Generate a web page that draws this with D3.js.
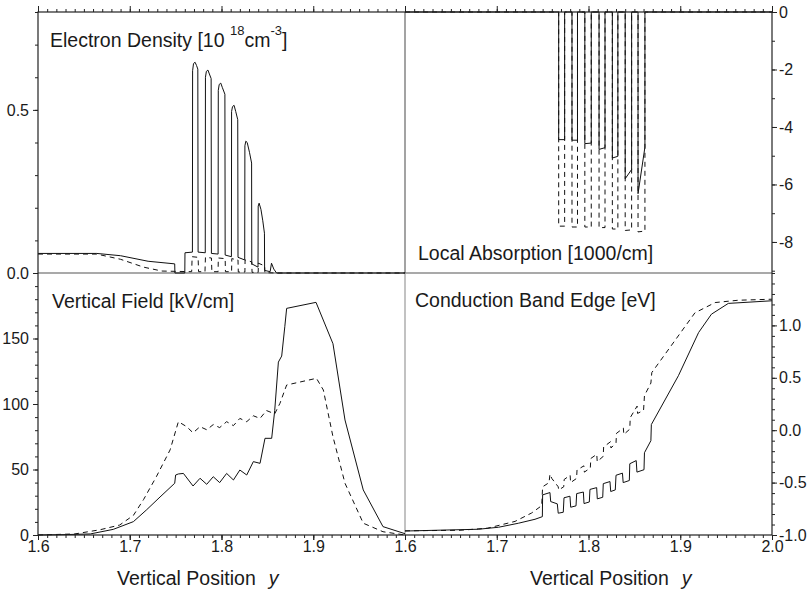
<!DOCTYPE html>
<html>
<head>
<meta charset="utf-8">
<script src="https://d3js.org/d3.v7.min.js"></script>
<style>
  body { margin: 0; background: #fff; }
  text { font-family: "Liberation Sans", Arial, sans-serif; fill: #1a1a1a; }
</style>
</head>
<body>
<div id="chart"></div>
<script>

// ---- data: [vertical position y, value] ----
const densitySolid = [
  [1.600,0.060],[1.664,0.060],[1.690,0.053],[1.720,0.036],[1.749,0.028],[1.7492,0.000],[1.760,0.000],[1.7602,0.062],[1.7683,0.064],
  [1.7685,0.620],[1.7695,0.642],[1.7712,0.646],[1.7728,0.636],[1.7742,0.625],[1.7745,0.064],[1.7823,0.062],
  [1.7825,0.600],[1.7835,0.618],[1.7852,0.622],[1.7868,0.610],[1.7887,0.596],[1.789,0.060],[1.7963,0.058],
  [1.7965,0.560],[1.7975,0.578],[1.7992,0.582],[1.8010,0.568],[1.8037,0.548],[1.804,0.055],[1.8108,0.050],
  [1.811,0.495],[1.8120,0.510],[1.8137,0.514],[1.8155,0.495],[1.8177,0.470],[1.818,0.048],[1.8253,0.040],
  [1.8255,0.390],[1.8265,0.404],[1.8280,0.400],[1.8305,0.370],[1.8328,0.337],[1.833,0.028],[1.8398,0.018],
  [1.840,0.205],[1.8410,0.214],[1.8430,0.195],[1.8450,0.160],[1.8468,0.122],[1.847,0.008],[1.853,0.004],
  [1.8545,0.030],[1.857,0.012],[1.860,0.000],[2.000,0.000]
];
const densityDashed = [
  [1.600,0.058],[1.664,0.058],[1.690,0.042],[1.715,0.018],[1.735,0.006],[1.7675,0.004],[1.768,0.050],[1.7745,0.048],
  [1.775,0.004],[1.782,0.004],[1.7825,0.048],[1.789,0.046],[1.7895,0.004],[1.7963,0.004],[1.7965,0.046],[1.804,0.044],
  [1.8043,0.004],[1.811,0.004],[1.8112,0.044],[1.818,0.040],[1.8183,0.003],[1.8255,0.003],[1.8257,0.040],[1.833,0.034],
  [1.8333,0.002],[1.840,0.002],[1.8402,0.030],[1.847,0.022],[1.8473,0.001],[1.860,0.000],[2.000,0.000]
];

const absorptionSolid = [
  [1.600,0],[1.7675,0],[1.7675,-4.44],[1.774,-4.44],[1.774,0],[1.782,0],[1.782,-4.46],[1.788,-4.46],[1.788,0],
  [1.796,0],[1.796,-4.58],[1.803,-4.56],[1.803,0],[1.8115,0],[1.8115,-4.78],[1.818,-4.72],[1.818,0],
  [1.826,0],[1.826,-5.08],[1.832,-5.02],[1.832,0],[1.840,0],[1.840,-5.80],[1.847,-5.48],[1.847,0],
  [1.854,0],[1.854,-6.32],[1.8615,-4.70],[1.8615,0],[2.000,0]
];
const absorptionDashed = [
  [1.600,0],[1.7675,0],[1.7675,-7.45],[1.774,-7.45],[1.774,0],[1.782,0],[1.782,-7.48],[1.788,-7.48],[1.788,0],
  [1.796,0],[1.796,-7.48],[1.803,-7.48],[1.803,0],[1.8115,0],[1.8115,-7.50],[1.818,-7.50],[1.818,0],
  [1.826,0],[1.826,-7.55],[1.832,-7.55],[1.832,0],[1.840,0],[1.840,-7.60],[1.847,-7.58],[1.847,0],
  [1.854,0],[1.854,-7.65],[1.8615,-7.62],[1.8615,0],[2.000,0]
];

const fieldSolid = [
  [1.600,0],[1.630,0.3],[1.657,0.8],[1.682,4.3],[1.704,10.2],[1.718,19],[1.733,29],[1.749,39.5],[1.750,45.8],
  [1.753,46.6],[1.7585,47],[1.769,37.4],[1.7766,43.3],[1.7839,38.7],[1.791,44.5],[1.798,40],[1.8056,47],
  [1.813,42],[1.820,49.6],[1.8275,45.8],[1.8347,56],[1.842,54.7],[1.8474,73.8],[1.8547,73.8],[1.858,95],
  [1.862,132],[1.8656,136.6],[1.869,159],[1.871,173],[1.903,177.6],[1.9215,146],[1.9346,87.8],[1.9545,34.4],
  [1.976,6.4],[2.000,1.0]
];
const fieldDashed = [
  [1.600,0],[1.640,0.8],[1.6676,4],[1.689,7.6],[1.704,15],[1.715,27],[1.729,44.5],[1.744,65],[1.753,86.5],
  [1.762,82.7],[1.769,78],[1.7766,82.7],[1.784,80.3],[1.791,84.3],[1.798,82],[1.8056,86.5],[1.813,83.5],
  [1.820,89],[1.8275,86.5],[1.8347,91],[1.842,89],[1.849,95],[1.858,92.5],[1.8637,100.5],[1.871,114.5],
  [1.9035,119.6],[1.911,110.7],[1.9215,75],[1.9346,39.5],[1.9545,9],[1.976,2.5],[2.000,0]
];

const bandSolid = [
  [1.600,-0.962],[1.680,-0.945],[1.702,-0.926],[1.7235,-0.888],[1.7417,-0.850],[1.7497,-0.825],
  [1.750,-0.617],[1.758,-0.595],[1.7588,-0.681],[1.766,-0.703],[1.767,-0.792],[1.7725,-0.783],
  [1.7733,-0.645],[1.7798,-0.630],[1.7806,-0.735],[1.7864,-0.722],[1.7871,-0.605],[1.7944,-0.590],
  [1.7951,-0.700],[1.8009,-0.685],[1.8016,-0.565],[1.8089,-0.548],[1.8096,-0.655],[1.8155,-0.640],
  [1.8161,-0.510],[1.8234,-0.490],[1.8242,-0.585],[1.8292,-0.570],[1.830,-0.430],[1.837,-0.410],
  [1.8378,-0.500],[1.8445,-0.480],[1.845,-0.320],[1.852,-0.290],[1.8528,-0.400],[1.8605,-0.377],
  [1.861,-0.215],[1.868,-0.100],[1.8685,0.054],[1.898,0.520],[1.920,0.932],[1.934,1.107],[1.9524,1.210],[2.000,1.235]
];
const bandDashed = [
  [1.600,-0.960],[1.660,-0.955],[1.690,-0.935],[1.720,-0.870],[1.738,-0.790],[1.749,-0.720],
  [1.750,-0.540],[1.757,-0.500],[1.758,-0.420],[1.760,-0.460],[1.767,-0.540],
  [1.7675,-0.570],[1.773,-0.540],[1.7735,-0.470],[1.780,-0.430],
  [1.7805,-0.500],[1.787,-0.460],[1.7875,-0.380],[1.795,-0.340],
  [1.7955,-0.400],[1.802,-0.360],[1.8025,-0.270],[1.809,-0.230],
  [1.8095,-0.300],[1.816,-0.250],[1.8165,-0.160],[1.824,-0.110],
  [1.8245,-0.170],[1.830,-0.120],[1.8305,-0.030],[1.838,0.020],
  [1.8385,-0.040],[1.845,0.010],[1.8455,0.120],[1.853,0.230],
  [1.8535,0.160],[1.860,0.190],[1.861,0.330],[1.868,0.450],[1.869,0.550],
  [1.916,1.120],[1.938,1.218],[1.963,1.240],[2.000,1.250]
];

// tick labels
const xTicksLeft = [1.6, 1.7, 1.8, 1.9];
const xTicksRight = [1.6, 1.7, 1.8, 1.9, 2.0];
const densityTicks = [0, 0.5];
const absorptionTicks = [0, -2, -4, -6, -8];
const fieldTicks = [0, 50, 100, 150];
const bandTicks = [-1, -0.5, 0, 0.5, 1];

// ---- layout ----
const w = 809, h = 591;
const xL = 38, xM = 405, xR = 772;
const yT = 12, yM = 273, yB = 535;
const font = '"Liberation Sans", Arial, sans-serif';

const svg = d3.select("#chart").append("svg")
  .attr("width", w).attr("height", h);

const xLeft = d3.scaleLinear().domain([1.6, 2.0]).range([xL, xM]);
const xRight = d3.scaleLinear().domain([1.6, 2.0]).range([xM, xR]);
const yDens = d3.scaleLinear().domain([0, 0.8]).range([yM, yT]);
const yAbs = d3.scaleLinear().domain([-9.08, 0]).range([yM, yT]);
const yField = d3.scaleLinear().domain([0, 200]).range([yB, yM]);
const yBand = d3.scaleLinear().domain([-1, 1.5]).range([yB, yM]);

const xMinor = d3.range(1.6, 2.0001, 0.01);
const xMajor = d3.range(1.6, 2.0001, 0.1);

// axes: ticks only, frame drawn separately
function drawAxis(axis, tx, ty, labels) {
  const g = svg.append("g").attr("transform", `translate(${tx},${ty})`).call(axis);
  g.select(".domain").remove();
  g.selectAll("line").attr("stroke", "#222");
  g.selectAll("text").attr("font-size", 16).attr("font-family", font).attr("fill", "#1a1a1a");
  return g;
}

// top axes (both upper panels)
[xLeft, xRight].forEach(sc => {
  drawAxis(d3.axisTop(sc).tickValues(xMinor).tickSize(3).tickFormat(""), 0, yT);
  drawAxis(d3.axisTop(sc).tickValues(xMajor).tickSize(6).tickFormat(""), 0, yT);
});
// bottom axes
drawAxis(d3.axisBottom(xLeft).tickValues(xMinor).tickSize(3).tickFormat(""), 0, yB);
drawAxis(d3.axisBottom(xLeft).tickValues(xMajor).tickSize(5).tickFormat(""), 0, yB);
drawAxis(d3.axisBottom(xLeft).tickValues(xTicksLeft).tickSize(5).tickPadding(1).tickFormat(d3.format(".1f")), 0, yB);
drawAxis(d3.axisBottom(xRight).tickValues(xMinor).tickSize(3).tickFormat(""), 0, yB);
drawAxis(d3.axisBottom(xRight).tickValues(xTicksRight).tickSize(5).tickPadding(1).tickFormat(d3.format(".1f")), 0, yB);

// left axes
drawAxis(d3.axisLeft(yDens).tickValues(d3.range(0, 0.801, 0.1)).tickSize(3).tickFormat(""), xL, 0);
drawAxis(d3.axisLeft(yDens).tickValues(densityTicks).tickSize(5).tickPadding(4).tickFormat(d3.format(".1f")), xL, 0);
drawAxis(d3.axisLeft(yField).tickValues(d3.range(0, 200.1, 10)).tickSize(3).tickFormat(""), xL, 0);
drawAxis(d3.axisLeft(yField).tickValues(fieldTicks).tickSize(5).tickPadding(4).tickFormat(d3.format("d")), xL, 0);

// right axes
drawAxis(d3.axisRight(yAbs).tickValues(d3.range(-9, 0.01, 1)).tickSize(3).tickFormat(""), xR, 0);
drawAxis(d3.axisRight(yAbs).tickValues(absorptionTicks).tickSize(5).tickPadding(2).tickFormat(d => d3.format("d")(d).replace("−", "-")), xR, 0);
drawAxis(d3.axisRight(yBand).tickValues(d3.range(-1, 1.501, 0.1)).tickSize(3).tickFormat(""), xR, 0);
drawAxis(d3.axisRight(yBand).tickValues(bandTicks).tickSize(5).tickPadding(2).tickFormat(d => d3.format(".1f")(d).replace("−", "-")), xR, 0);

// inner dividers (grey)
svg.append("line").attr("x1", xL).attr("x2", xR).attr("y1", yM).attr("y2", yM)
  .attr("stroke", "#8c8c8c").attr("stroke-width", 1.6);
svg.append("line").attr("x1", xM).attr("x2", xM).attr("y1", yT).attr("y2", yM)
  .attr("stroke", "#666").attr("stroke-width", 1.2);
svg.append("line").attr("x1", xM).attr("x2", xM).attr("y1", yM).attr("y2", yB)
  .attr("stroke", "#999").attr("stroke-width", 1.2);

// curves
function drawCurve(data, xs, ys, dashed) {
  const line = d3.line().x(d => xs(d[0])).y(d => ys(d[1]));
  svg.append("path").datum(data)
    .attr("d", line)
    .attr("fill", "none")
    .attr("stroke", "#111")
    .attr("stroke-width", 1)
    .attr("stroke-dasharray", dashed ? "5,4" : null);
}
drawCurve(densityDashed, xLeft, yDens, true);
drawCurve(densitySolid, xLeft, yDens, false);
drawCurve(absorptionDashed, xRight, yAbs, true);
drawCurve(absorptionSolid, xRight, yAbs, false);
drawCurve(fieldDashed, xLeft, yField, true);
drawCurve(fieldSolid, xLeft, yField, false);
drawCurve(bandDashed, xRight, yBand, true);
drawCurve(bandSolid, xRight, yBand, false);

// outer frame
svg.append("rect").attr("x", xL).attr("y", yT).attr("width", xR - xL).attr("height", yB - yT)
  .attr("fill", "none").attr("stroke", "#222").attr("stroke-width", 1.2);

// panel titles
const tsize = 19.5;
const t1 = svg.append("text").attr("x", 50).attr("y", 47).attr("font-size", tsize);
t1.append("tspan").text("Electron Density [10 ");
t1.append("tspan").attr("dy", -12).attr("font-size", 13).text("18");
t1.append("tspan").attr("dy", 12).text("cm");
t1.append("tspan").attr("dy", -12).attr("font-size", 13).text("-3");
t1.append("tspan").attr("dy", 12).text("]");

svg.append("text").attr("x", 418).attr("y", 260).attr("font-size", tsize).text("Local Absorption [1000/cm]");
svg.append("text").attr("x", 52).attr("y", 308).attr("font-size", tsize).text("Vertical Field [kV/cm]");
svg.append("text").attr("x", 415).attr("y", 307).attr("font-size", tsize).text("Conduction Band Edge [eV]");

// x axis titles
[117, 530].forEach(x0 => {
  const t = svg.append("text").attr("x", x0).attr("y", 585).attr("font-size", tsize).text("Vertical Position");
  const len = t.node().getComputedTextLength();
  svg.append("text").attr("x", x0 + len + 13).attr("y", 585).attr("font-size", tsize)
    .attr("font-style", "italic").text("y");
});

</script>
</body>
</html>
